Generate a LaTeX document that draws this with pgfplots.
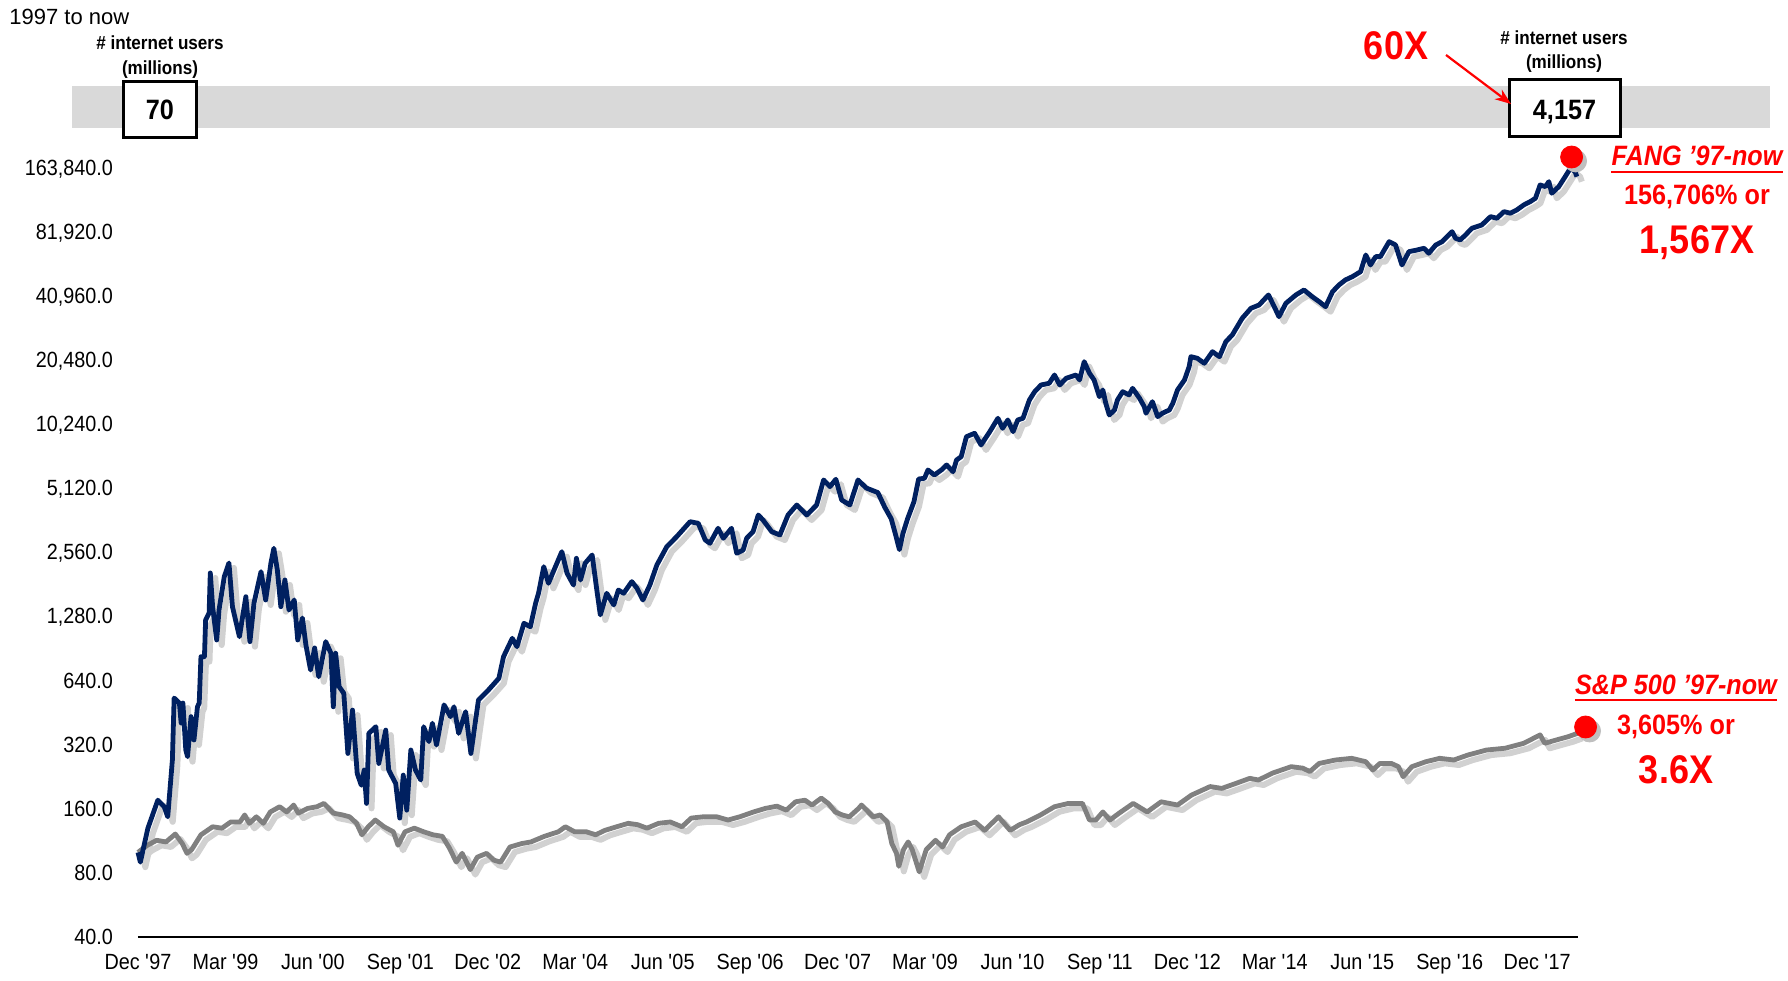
\documentclass[border=0pt]{standalone}
\usepackage{fontspec}
\setmainfont{Liberation Sans}
\newfontfamily\narrow{Liberation Sans}[FakeStretch=0.9]
\usepackage{pgfplots}
\usepackage{pgfplotstable}
\pgfplotsset{compat=1.18}
\usetikzlibrary{arrows.meta,calc}
\definecolor{navy}{HTML}{002060}
\definecolor{spgrey}{HTML}{808080}
\definecolor{band}{HTML}{D9D9D9}
\definecolor{hot}{HTML}{FF0000}

% months since Dec 1997, index value (Dec 1997 = 100)
\pgfplotstableread{
m v
0 100
0.4 90
1.7 130
3.4 176
4.5 164
5.1 147
5.9 272
6.2 532
7.1 504
7.4 406
7.7 504
8.2 303
8.5 282
9.1 435
9.6 338
10.2 484
10.5 504
10.8 833
11.4 833
11.6 1239
12.2 1337
12.4 2062
12.8 1431
13.5 998
13.9 1380
14.8 1981
15.6 2297
16.2 1431
17.4 1034
18.5 1595
19.2 980
19.9 1490
21.1 2091
21.9 1539
22.8 2297
23.3 2693
23.9 2130
24.5 1431
25.2 1911
25.9 1380
26.8 1539
27.4 998
28.2 1266
28.8 945
29.6 721
30.3 915
31.0 670
32.2 980
33.1 864
33.5 484
33.9 864
34.5 602
35.3 560
36.0 292
36.8 467
37.6 235
38.3 207
38.8 244
39.2 170
39.6 363
40.8 390
41.3 262
42.5 376
43.0 244
44.2 211
44.9 145
45.5 231
46.1 158
46.8 303
47.6 244
48.5 219
49.0 390
49.9 332
50.5 405
51.2 320
52.5 494
53.6 435
54.2 484
55.0 363
56.2 459
57.1 292
58.4 521
60.1 580
61.9 659
62.7 833
64.2 1016
65.0 928
66.2 1195
67.3 1152
68.2 1485
68.7 1655
69.6 2207
70.4 1844
71.6 2207
72.7 2596
73.6 2055
74.7 1810
75.2 2416
75.9 1911
76.7 2290
77.9 2505
78.7 1714
79.3 1309
80.4 1655
81.6 1458
82.4 1714
83.3 1655
84.7 1877
85.6 1747
86.6 1539
87.8 1810
89.0 2247
90.7 2740
92.4 3055
94.7 3592
96.1 3531
97.3 2947
98.1 2844
99.5 3345
100.4 3003
101.8 3345
102.7 2552
103.8 2644
104.4 3003
105.5 3225
106.4 3863
107.2 3660
108.7 3225
110.1 3111
111.5 3863
113.0 4305
114.7 3863
116.4 4305
117.6 5645
118.7 5250
119.7 5689
120.7 4545
122.1 4305
123.5 5645
124.9 5176
126.9 4925
128.1 4196
129.2 3707
130.0 3079
130.6 2656
131.2 3156
132.0 3707
133.1 4463
133.9 5705
134.9 5748
135.5 6289
136.6 5959
137.8 6289
138.7 6640
139.8 6173
140.4 7008
141.2 7264
142.1 9020
143.5 9360
144.6 8247
146.1 9523
147.5 11012
148.3 9880
149.2 10811
150.1 9523
150.9 10811
151.8 11012
152.9 13424
153.8 14685
154.9 15792
156.3 16088
157.2 17600
158.1 15792
159.2 16984
160.9 17600
161.5 16670
162.3 20329
163.2 17928
164.0 16670
164.9 13913
165.5 14960
166.0 12952
166.6 11411
167.5 12044
168.0 13424
168.9 14685
170.0 14173
170.6 15232
171.8 13670
172.6 12484
172.9 11625
174.0 13180
174.9 11208
175.7 11625
176.9 12044
177.5 12952
178.3 14960
179.5 16670
180.3 19258
180.6 21451
181.7 21085
182.9 19976
184.3 22648
185.5 21451
186.6 25248
187.7 27146
189.4 32519
190.9 36233
192.3 37564
193.9 41860
194.9 36865
195.7 33092
196.9 38261
198.6 41860
200.0 44183
201.4 41104
202.6 38937
203.7 36865
204.9 43389
206.0 46648
207.1 49252
208.3 51036
209.7 53868
210.6 64553
211.4 57926
212.3 63392
213.1 63392
214.6 74559
215.7 71945
216.8 57926
218.0 66908
219.4 68137
220.6 69408
221.4 65752
222.6 71945
223.7 74559
225.4 83079
226.0 77345
226.8 75943
227.7 80165
228.8 86180
230.5 89342
232.0 97773
233.1 96093
234.3 103213
235.4 101440
236.5 105112
237.7 110991
238.8 115000
239.7 119305
240.5 137765
241.4 135261
242.0 142825
242.5 125904
243.7 135261
244.8 150768
245.7 165084
246.5 159120
246.8 150768
}\fang

\pgfplotstableread{
m v
0 100
1.6 108
3.2 114
4.8 112
6.4 122
7.6 110
8.4 99
9.2 103
10.8 121
12.8 132
14.4 130
15.9 139
17.5 139
18.3 150
19.1 137
20.3 147
21.5 137
22.7 155
24.3 164
25.5 155
26.7 167
27.5 153
29.1 161
30.7 164
31.9 170
33.5 153
35.1 150
36.3 147
37.5 137
38.4 121
39.5 132
40.7 142
42.2 132
43.8 125
44.6 108
45.8 125
47.4 130
49.0 125
50.6 121
52.2 119
53.4 105
54.6 90
55.6 99
57.0 83
58.2 95
59.8 99
61.0 92
62.2 90
63.8 106
65.8 110
67.4 112
69.7 119
72.1 125
73.3 132
74.9 125
76.9 125
78.5 121
80.1 127
82.1 132
84.1 137
85.7 135
87.3 130
89.3 137
91.3 139
93.3 132
94.9 145
96.9 147
99.3 147
101.2 142
103.2 147
105.6 155
107.6 161
109.6 165
111.2 158
112.8 173
114.4 176
115.6 167
117.2 180
118.4 170
119.6 155
120.8 150
122.0 147
123.6 161
124.1 167
126.1 147
127.3 150
128.5 139
129.3 110
130.1 99
130.5 86
131.3 103
132.1 112
132.8 103
134.0 81
135.2 103
136.8 114
138.0 106
139.2 121
141.2 132
143.6 139
145.2 127
147.6 147
149.6 127
151.2 135
152.4 139
154.8 150
157.2 164
159.6 170
162.0 170
163.2 142
164.3 142
165.5 155
166.7 142
168.3 153
170.7 170
173.1 155
175.5 173
178.3 167
180.7 186
183.9 204
185.9 200
188.3 211
190.7 223
192.2 219
194.6 236
197.8 253
199.8 249
201.0 240
202.6 262
205.4 272
208.2 277
210.6 267
211.8 244
213.0 262
215.0 262
216.2 253
217.0 227
218.5 253
220.9 267
223.3 277
225.7 272
228.1 287
231.3 303
234.5 309
237.7 326
240.5 357
241.3 326
243.3 338
245.3 350
246.9 363
}\spx

\begin{document}
\begin{tikzpicture}
% page frame in reference pixels
\begin{scope}[shift={(-69pt,468.5pt)},x=0.5pt,y=-0.5pt]
  \useasboundingbox (0,0) rectangle (1788,980);
  \fill[band] (72,86) rectangle (1770,128);
\end{scope}

\begin{axis}[
  scale only axis,
  width=720pt, height=393.5pt,
  xmin=0, xmax=247,
  ymode=log, log basis y=2,
  ymin=40, ymax=201200,
  axis x line=bottom, axis y line=left,
  axis line style={-},
  x axis line style={line width=1.4pt},
  y axis line style={draw=none},
  major tick length=0pt,
  xtick={0,15,...,240},
  xticklabels={Dec \textquotesingle97,Mar \textquotesingle99,Jun \textquotesingle00,Sep \textquotesingle01,Dec \textquotesingle02,Mar \textquotesingle04,Jun \textquotesingle05,Sep \textquotesingle06,Dec \textquotesingle07,Mar \textquotesingle09,Jun \textquotesingle10,Sep \textquotesingle11,Dec \textquotesingle12,Mar \textquotesingle14,Jun \textquotesingle15,Sep \textquotesingle16,Dec \textquotesingle17},
  ytick={40,80,160,320,640,1280,2560,5120,10240,20480,40960,81920,163840},
  yticklabels={40.0,80.0,160.0,320.0,640.0,{1,280.0},{2,560.0},{5,120.0},{10,240.0},{20,480.0},{40,960.0},{81,920.0},{163,840.0}},
  tick label style={font=\narrow\fontsize{11}{13}\selectfont},
  xticklabel style={yshift=-5pt},
  yticklabel style={xshift=-9pt},
  clip=false,
]
% soft shadows
\addplot[black!18, line width=3pt, line join=round, xshift=2.5pt, yshift=-2.5pt] table {\spx};
\addplot[black!18, line width=3pt, line join=round, xshift=2.5pt, yshift=-2.5pt] table {\fang};
\addplot[spgrey, line width=2.4pt, line join=round] table {\spx};
\addplot[navy, line width=2.4pt, line join=round] table {\fang};
% end dots
\addplot[only marks, mark=*, mark size=5.5pt, black!25, draw=none, xshift=2pt, yshift=-2pt] coordinates {(245.9,186500) (248.3,389)};
\addplot[only marks, mark=*, mark size=5.5pt, hot, draw=none] coordinates {(245.9,186500) (248.3,389)};
\end{axis}

\begin{scope}[shift={(-69pt,468.5pt)},x=0.5pt,y=-0.5pt]
  \node[anchor=west, inner sep=0, font=\fontsize{11}{13}\selectfont] at (9,17) {1997 to now};
  \node[align=center, inner sep=0, font=\narrow\bfseries\fontsize{9.5}{12.5}\selectfont] at (160,57) {\# internet users\\(millions)};
  \node[align=center, inner sep=0, font=\narrow\bfseries\fontsize{9.5}{12}\selectfont] at (1564,51.5) {\# internet users\\(millions)};
  \draw[line width=1.5pt, fill=white] (124,82) rectangle (196,138);
  \node[anchor=base, inner sep=0, font=\narrow\bfseries\fontsize{14}{16}\selectfont] at (160,120) {70};
  \draw[line width=1.5pt, fill=white] (1509,80) rectangle (1620,137);
  \node[anchor=base, inner sep=0, font=\narrow\bfseries\fontsize{14}{16}\selectfont] at (1564.5,120) {4,157};
  \node[hot, font=\narrow\bfseries\fontsize{20}{24}\selectfont] at (1396,46) {60X};
  \draw[hot, line width=1.1pt, -{Stealth[length=8pt,width=6pt]}] (1446,55) -- (1511,104);
  % FANG call-out
  \node[hot, inner sep=0, anchor=base, font=\narrow\bfseries\itshape\fontsize{14}{16}\selectfont] (fl) at (1697,166) {FANG ’97-now};
  \draw[hot, line width=1.4pt] ($(fl.base west)+(0,6)$) -- ($(fl.base east)+(0,6)$);
  \node[hot, font=\narrow\bfseries\fontsize{14}{16}\selectfont] at (1697,197) {156,706\% or};
  \node[hot, font=\narrow\bfseries\fontsize{20}{24}\selectfont] at (1697,243) {1,567X};
  % S&P call-out
  \node[hot, inner sep=0, anchor=base, font=\narrow\bfseries\itshape\fontsize{14}{16}\selectfont] (sl) at (1676,694) {S\&P 500 ’97-now};
  \draw[hot, line width=1.4pt] ($(sl.base west)+(0,6)$) -- ($(sl.base east)+(0,6)$);
  \node[hot, font=\narrow\bfseries\fontsize{14}{16}\selectfont] at (1676,727) {3,605\% or};
  \node[hot, font=\narrow\bfseries\fontsize{20}{24}\selectfont] at (1676,770) {3.6X};
\end{scope}
\end{tikzpicture}
\end{document}
